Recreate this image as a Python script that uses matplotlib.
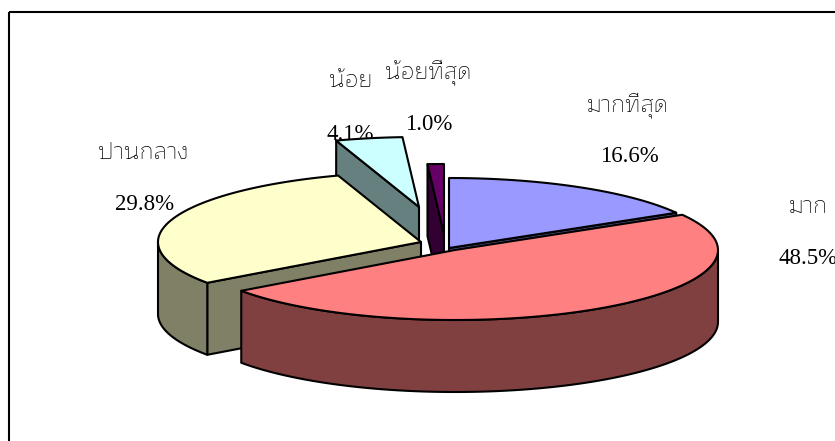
import numpy as np
import matplotlib
matplotlib.use("Agg")
import matplotlib.pyplot as plt
from matplotlib.patches import Polygon, Rectangle

# Data
labels = ["มากที่สุด", "มาก", "ปานกลาง", "น้อย", "น้อยที่สุด"]
values = [16.6, 48.5, 29.8, 4.1, 1.0]

# Look of each slice
top_colors = ["#9999FF", "#FF8080", "#FFFFCC", "#CCFFFF", "#660066"]
wall_colors = ["#4D4D80", "#804040", "#808066", "#668080", "#330033"]
centers = [(449, 248), (455, 250), (421, 242), (419, 207), (444, 234)]
label_pos = [(628, 106), (808, 207), (143, 153), (351, 81), (428, 73)]
value_pos = [(629, 157), (808, 258), (145, 205), (350, 134), (429, 125)]
draw_order = [3, 4, 0, 2, 1]

RX, RY, DEPTH = 263, 70, 72
THAI = ["Maitree", "Trirong", "Pridi", "Liberation Serif"]

fig = plt.figure(figsize=(8.35, 4.41), dpi=100)
ax = fig.add_axes([0, 0, 1, 1])
ax.set_xlim(0, 835)
ax.set_ylim(441, 0)
ax.axis("off")

# chart frame runs off the right and bottom of the image
ax.add_patch(Rectangle((9, 12), 840, 440, fill=False, ec="black", lw=1.5, zorder=1))


def rim(center, angles):
    t = np.radians(angles)
    return np.column_stack([center[0] + RX * np.sin(t), center[1] - RY * np.cos(t)])


def wall(center, angle):
    p = rim(center, [angle])[0]
    return [center, p, (p[0], p[1] + DEPTH), (center[0], center[1] + DEPTH)]


edges = np.cumsum([0] + values) * 3.6

for i in draw_order:
    a0, a1 = edges[i], edges[i + 1]
    c = centers[i]
    z = 3 + draw_order.index(i)
    style = dict(ec="black", lw=1.5, joinstyle="round", zorder=z)

    # cut faces that turn towards the viewer
    if 180 < a0 < 360:
        ax.add_patch(Polygon(wall(c, a0), fc=wall_colors[i], **style))
    if 0 < a1 < 180:
        ax.add_patch(Polygon(wall(c, a1), fc=wall_colors[i], **style))

    # outer wall, front half of the ellipse only
    lo, hi = max(a0, 90), min(a1, 270)
    if lo < hi:
        arc = rim(c, np.linspace(lo, hi, 80))
        lower = arc[::-1] + [0, DEPTH]
        ax.add_patch(Polygon(np.vstack([arc, lower]), fc=wall_colors[i], **style))

    # top face
    arc = rim(c, np.linspace(a0, a1, 120))
    ax.add_patch(Polygon(np.vstack([[c], arc]), fc=top_colors[i], **style))

for i, name in enumerate(labels):
    ax.text(*label_pos[i], name, family=THAI, weight="light", fontsize=17, color="black",
            ha="center", va="center", zorder=2)
    ax.text(*value_pos[i], f"{values[i]:.1f}%", family="Liberation Serif", fontsize=16.5,
            color="black", ha="center", va="center", zorder=2)

fig.savefig("out.png", dpi=100)
